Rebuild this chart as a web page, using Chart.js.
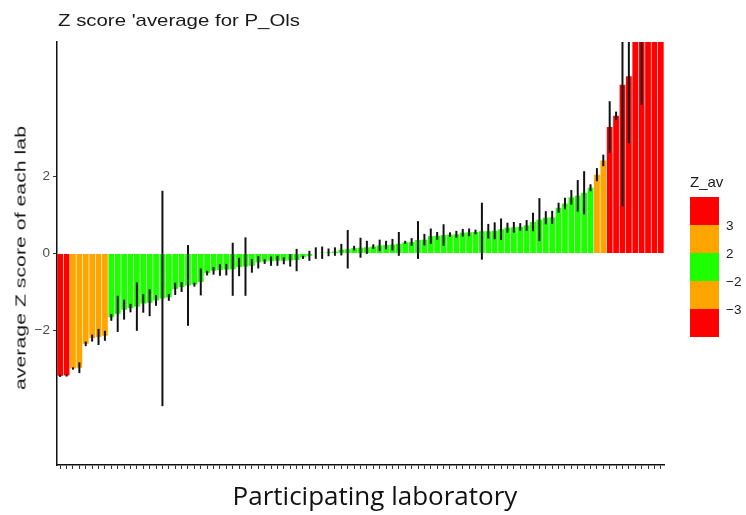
<!DOCTYPE html>
<html>
<head>
<meta charset="utf-8">
<script src="https://cdn.jsdelivr.net/npm/chart.js@4/dist/chart.umd.min.js"></script>
<style>
  html, body { margin: 0; padding: 0; background: #fff; }
  #wrap { position: relative; width: 746px; height: 515px; overflow: hidden; font-family: "Liberation Sans", Arial, sans-serif; }
  #chart { position: absolute; left: 0; top: 0; }
  .title { position: absolute; left: 58px; top: 11px; font-size: 17px; color: #1a1a1a; white-space: nowrap; transform: scaleX(1.2); transform-origin: left top; }
  .ytitle { position: absolute; left: 20px; top: 258px; font-size: 15px; color: #1a1a1a; white-space: nowrap; transform: translate(-50%, -50%) rotate(-90deg) scaleX(1.42); }
  .xtitle { position: absolute; left: 375px; top: 478px; transform: translateX(-50%); font-family: "Open Sans", sans-serif; font-size: 26px; line-height: 34px; color: #111; white-space: nowrap; }
  .legend { position: absolute; left: 690px; top: 173px; }
  .legend .lt { font-size: 15px; color: #1a1a1a; margin-bottom: 7px; }
  .legend .key { width: 29px; height: 28px; }
  .legend .lab { position: absolute; left: 36px; font-size: 13.5px; color: #222; transform: translateY(-50%); }
</style>
</head>
<body>
<div id="wrap">
  <canvas id="chart" width="746" height="515"></canvas>
  <div class="title">Z score 'average for P_Ols</div>
  <div class="ytitle">average Z score of each lab</div>
  <div class="xtitle">Participating laboratory</div>
  <div class="legend" id="legend"></div>
</div>
<script>
// Z score average per lab, sorted ascending, with error half-widths
const zAvg = [
  -3.18, -3.17, -2.99, -2.97, -2.35, -2.20, -2.17, -2.14, -1.66, -1.57,
  -1.46, -1.42, -1.38, -1.30, -1.28, -1.22, -1.17, -1.14, -0.92, -0.87,
  -0.83, -0.81, -0.74, -0.51, -0.45, -0.43, -0.42, -0.41, -0.35, -0.34,
  -0.32, -0.23, -0.21, -0.20, -0.19, -0.19, -0.18, -0.17, -0.10, -0.06,
   0.01,  0.02,  0.03,  0.05,  0.10,  0.11,  0.14,  0.15,  0.16,  0.18,
   0.21,  0.22,  0.23,  0.25,  0.29,  0.30,  0.35,  0.36,  0.45,  0.46,
   0.48,  0.49,  0.50,  0.54,  0.55,  0.56,  0.58,  0.58,  0.59,  0.63,
   0.67,  0.68,  0.69,  0.73,  0.82,  0.88,  0.93,  0.94,  1.19,  1.30,
   1.46,  1.50,  1.58,  1.71,  2.05,  2.42,  3.29,  3.58,  4.39,  4.61,
   6.0,   6.6,   7.2,   8.0,   9.5
];
const zErr = [
  0.03, 0.03, 0.03, 0.14, 0.06, 0.09, 0.21, 0.13, 0.09, 0.47,
  0.26, 0.11, 0.63, 0.24, 0.35, 0.14, 2.80, 0.09, 0.16, 0.13,
  1.05, 0.05, 0.35, 0.06, 0.10, 0.15, 0.15, 0.69, 0.24, 0.76,
  0.18, 0.16, 0.06, 0.12, 0.13, 0.09, 0.16, 0.29, 0.04, 0.13,
  0.15, 0.16, 0.10, 0.11, 0.15, 0.50, 0.06, 0.26, 0.17, 0.06,
  0.15, 0.11, 0.15, 0.31, 0.04, 0.10, 0.49, 0.15, 0.20, 0.10,
  0.28, 0.06, 0.09, 0.10, 0.10, 0.06, 0.74, 0.19, 0.22, 0.28,
  0.13, 0.14, 0.10, 0.14, 0.24, 0.56, 0.17, 0.17, 0.13, 0.15,
  0.19, 0.41, 0.56, 0.09, 0.17, 0.15, 0.67, 0.11, 3.16, 1.74,
  0,    2.73, 0,    0,    0
];
const labs = zAvg.map((_, i) => 'Lab ' + (i + 1));
const yTicks = [-2, 0, 2];

// legend: Z_av classes, top to bottom, and the break labels between them
const legendColors = ['#ff0000', '#ffa500', '#1eff00', '#ffa500', '#ff0000'];
const legendBreaks = ['3', '2', '\u22122', '\u22123'];

const RED = '#ff0000', ORANGE = '#ffa500', GREEN = '#1eff00';

function zColor(v) {
  const a = Math.abs(v);
  if (a >= 3) return RED;
  if (a >= 2) return ORANGE;
  return GREEN;
}

// ─── Error bars ──────────────────────────────────────────────────────────────

const errorBars = {
  id: 'errorBars',
  afterDatasetsDraw(chart) {
    const { ctx, chartArea, scales } = chart;
    const meta = chart.getDatasetMeta(0);
    ctx.save();
    ctx.beginPath();
    ctx.rect(chartArea.left, chartArea.top, chartArea.right - chartArea.left, chartArea.bottom - chartArea.top);
    ctx.clip();
    ctx.strokeStyle = '#111';
    ctx.lineWidth = 2;
    meta.data.forEach((bar, i) => {
      const e = zErr[i];
      if (!e) return;
      const y1 = scales.y.getPixelForValue(zAvg[i] + e);
      const y2 = scales.y.getPixelForValue(zAvg[i] - e);
      ctx.beginPath();
      ctx.moveTo(bar.x, y1);
      ctx.lineTo(bar.x, y2);
      ctx.stroke();
    });
    ctx.restore();
  }
};

// ─── Chart ───────────────────────────────────────────────────────────────────

new Chart(document.getElementById('chart'), {
  type: 'bar',
  data: {
    labels: labs,
    datasets: [{
      data: zAvg,
      backgroundColor: zAvg.map(zColor),
      borderWidth: 0,
      barPercentage: 0.9,
      categoryPercentage: 1,
    }]
  },
  options: {
    responsive: false,
    animation: false,
    layout: { padding: { top: 42, right: 82, left: 0, bottom: 0 } },
    plugins: { legend: { display: false }, tooltip: { enabled: false }, title: { display: false } },
    scales: {
      x: {
        afterFit: s => { s.height = 50; },
        border: { display: true, color: '#111', width: 1.5 },
        grid: { display: true, offset: false, drawOnChartArea: false, drawTicks: true, tickLength: 4, color: '#333', lineWidth: 1 },
        ticks: { display: false, autoSkip: false, maxRotation: 0 },
      },
      y: {
        min: -5.5,
        max: 5.5,
        afterFit: s => { s.width = 57; },
        afterBuildTicks: s => { s.ticks = yTicks.map(v => ({ value: v })); },
        border: { display: true, color: '#111', width: 1.5 },
        grid: { drawOnChartArea: false, drawTicks: true, tickLength: 4, color: '#333' },
        ticks: {
          color: '#4d4d4d',
          padding: 3,
          font: { family: 'Liberation Sans', size: 13.5 },
          callback: v => (v < 0 ? '\u2212' + Math.abs(v) : String(v)),
        },
      }
    }
  },
  plugins: [errorBars]
});

// ─── Legend ──────────────────────────────────────────────────────────────────

const leg = document.getElementById('legend');
leg.innerHTML = '<div class="lt">Z_av</div>' +
  '<div style="position:relative">' +
  legendColors.map(c => `<div class="key" style="background:${c}"></div>`).join('') +
  legendBreaks.map((b, i) => `<div class="lab" style="top:${(i + 1) * 28}px">${b}</div>`).join('') +
  '</div>';
</script>
</body>
</html>
